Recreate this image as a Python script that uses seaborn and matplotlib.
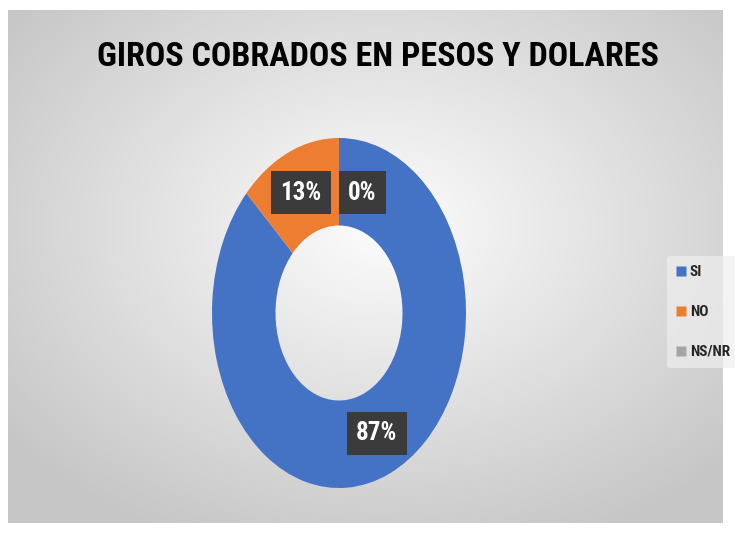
import numpy as np
import matplotlib
matplotlib.use("Agg")
import matplotlib.pyplot as plt
import seaborn as sns
from matplotlib import font_manager

categories = ["SI", "NO", "NS/NR"]
values = [87, 13, 0]
colors = ["#4472C4", "#ED7D31", "#A5A5A5"]
title = "GIROS COBRADOS EN PESOS Y DOLARES"

sns.set_theme(style="white")
names = {f.name for f in font_manager.fontManager.ttflist}
fam = [n for n in ["Liberation Sans Narrow", "Roboto Condensed", "Arial Narrow"] if n in names]
plt.rcParams['font.family'] = fam + ['DejaVu Sans']

W, H = 735, 537
fig = plt.figure(figsize=(W / 100, H / 100), dpi=100, facecolor="white")

# background gradient
bx0, by0, bx1, by1 = 8, 10, 723, 523
bg = fig.add_axes([bx0 / W, 1 - by1 / H, (bx1 - bx0) / W, (by1 - by0) / H])
yy, xx = np.mgrid[0:200, 0:300]
cx, cy = 0.52 * 300, 0.42 * 200
d = np.sqrt(((xx - cx) / 300) ** 2 + ((yy - cy) / 200) ** 2)
g = np.clip(0.99 - 0.32 * d, 0.78, 1)
bg.imshow(np.dstack([g, g, g]), aspect="auto", extent=(0, 1, 0, 1), origin="upper")
bg.set_axis_off()

# donut
ax = fig.add_axes([212 / W, 1 - 488 / H, 254 / W, 350 / H])
wedges, _ = ax.pie(values, colors=colors, startangle=90, counterclock=False,
                   wedgeprops=dict(width=0.5, edgecolor="none"))
ax.set_aspect("auto")
ax.set_xlim(-1, 1)
ax.set_ylim(-1, 1)
ax.set_axis_off()

for w, v in zip(wedges, values):
    ang = np.deg2rad((w.theta1 + w.theta2) / 2)
    r = 0.75
    if v == 0:
        ang -= np.deg2rad(15)
        r = 0.71
    x, y = r * np.cos(ang), r * np.sin(ang)
    ax.text(x, y, f"{v}%", ha="center", va="center", color="white",
            fontsize=18, fontweight="bold",
            bbox=dict(boxstyle="square,pad=0.38", facecolor="#3b3b3b", edgecolor="none"))

fig.text(378 / W, 1 - 57 / H, title, ha="center", va="center",
         fontsize=24.5, fontweight="bold", color="black")

handles = [plt.Line2D([], [], marker="s", linestyle="none", markersize=7,
                      markerfacecolor=c, markeredgecolor="none") for c in colors]
leg = fig.legend(handles, categories, loc="center left", bbox_to_anchor=(667 / W, 1 - 312 / H),
                 frameon=True, handlelength=0.6, handletextpad=0.3,
                 labelspacing=1.7, borderpad=0.6, borderaxespad=0,
                 prop=dict(weight="bold", size=11))
leg.get_frame().set_facecolor("#eeeeee")
leg.get_frame().set_edgecolor("none")
leg.get_frame().set_alpha(0.7)

fig.savefig("out.png", dpi=100, facecolor="white")
